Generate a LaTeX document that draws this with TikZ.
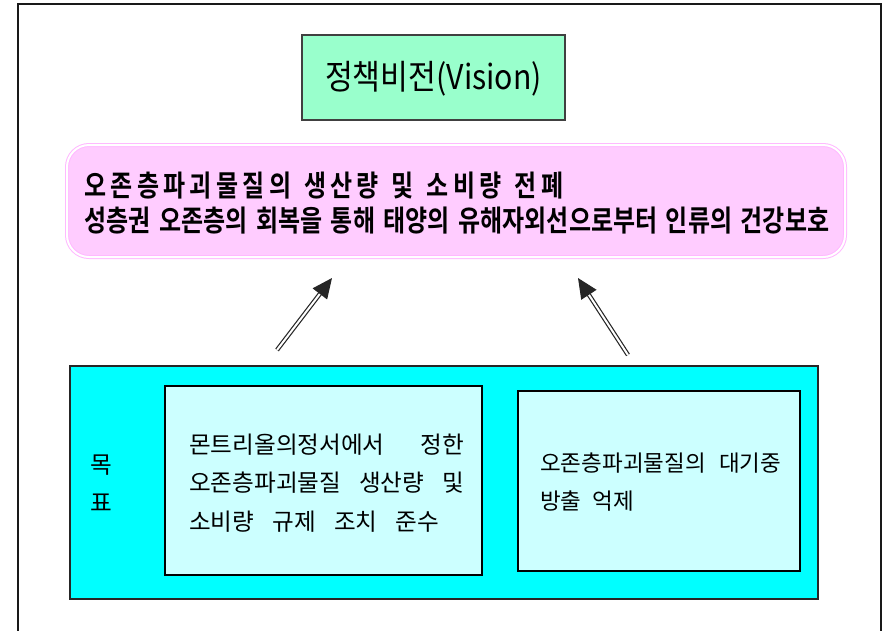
\documentclass[tikz,border=0pt]{standalone}
\usepackage{fontspec}
\newfontfamily\kr{Noto Sans CJK KR}
\newfontfamily\krb{Noto Sans CJK KR Bold}
\usetikzlibrary{arrows.meta}
\definecolor{frameblack}{RGB}{25,25,25}
\definecolor{visiongreen}{RGB}{153,255,204}
\definecolor{goalpink}{RGB}{255,204,255}
\definecolor{pinkedge}{RGB}{255,185,255}
\definecolor{cyanbg}{RGB}{0,255,255}
\definecolor{lightcyan}{RGB}{204,255,255}
\tikzset{
  visionbox/.style={draw=black!75, line width=1.5pt, fill=visiongreen, inner sep=0pt},
  goalbox/.style={draw=pinkedge, line width=1pt, double=white, double distance=2pt, fill=goalpink, rounded corners=22pt, inner sep=0pt},
  targetbox/.style={draw=black!85, line width=1.5pt, fill=cyanbg, inner sep=0pt},
  itembox/.style={draw=black, line width=2pt, fill=lightcyan, inner sep=0pt},
  boldtxt/.style={anchor=west, inner sep=0pt, font=\krb\fontsize{24}{26}\selectfont},
  itemtxt/.style={anchor=west, inner sep=0pt, font=\kr\fontsize{23.6}{25}\selectfont},
  itemtxtb/.style={anchor=west, inner sep=0pt, font=\kr\fontsize{22.5}{24}\selectfont},
  dblarrow/.style={draw=black!85, line width=1.2pt, double=white, double distance=2pt, -{Triangle[length=20pt,width=18pt]}}
}
\begin{document}
\begin{tikzpicture}[x=1pt,y=-1pt]
\clip (0,0) rectangle (888,630);
\fill[white] (0,0) rectangle (888,630);
\draw[line width=2.2pt, frameblack] (18,640) -- (18,4) -- (881,4) -- (881,640);

\node[visionbox, minimum width=263pt, minimum height=85pt] (vision) at (433.5,77.5) {};
\node[inner sep=0pt, font=\kr\fontsize{28}{30}\selectfont] (visiontxt) at (433.5,78.5) {\scalebox{1.08}[1.22]{정책비전(Vision)}};

\node[goalbox, minimum width=778pt, minimum height=112pt] (goal) at (456,201) {};
\node[boldtxt] (goal1) at (84,186) {\scalebox{1}[1.22]{\addfontfeature{LetterSpace=18}\makebox[479pt][s]{오존층파괴물질의 생산량 및 소비량 전폐}}};
\node[boldtxt] (goal2) at (84,221) {\scalebox{1}[1.22]{\makebox[745pt][s]{성층권 오존층의 회복을 통해 태양의 유해자외선으로부터 인류의 건강보호}}};

\node[targetbox, minimum width=748pt, minimum height=233pt] (target) at (444,482.5) {};
\node[itemtxt, anchor=center] (mok) at (101,465) {목};
\node[itemtxt, anchor=center] (pyo) at (101,503) {표};

\node[itembox, minimum width=317pt, minimum height=189pt] (item1) at (323.5,480.5) {};
\node[itemtxt] (item1a) at (189,445) {\makebox[275pt][s]{몬트리올의정서에서 정한}};
\node[itemtxt] (item1b) at (189,483) {\makebox[275pt][s]{오존층파괴물질 생산량 및}};
\node[itemtxt] (item1c) at (189,522) {\makebox[250pt][s]{소비량 규제 조치 준수}};

\node[itembox, minimum width=282pt, minimum height=180pt] (item2) at (659,481) {};
\node[itemtxtb] (item2a) at (540,463) {\makebox[241pt][s]{오존층파괴물질의 대기중}};
\node[itemtxtb] (item2b) at (540,501) {\makebox[94pt][s]{방출 억제}};

\coordinate (a1s) at (277,350);
\coordinate (a1e) at (332,278);
\coordinate (a2s) at (628,355);
\coordinate (a2e) at (578,278);
\draw[dblarrow] (a1s) -- (a1e);
\draw[dblarrow] (a2s) -- (a2e);
\end{tikzpicture}
\end{document}
